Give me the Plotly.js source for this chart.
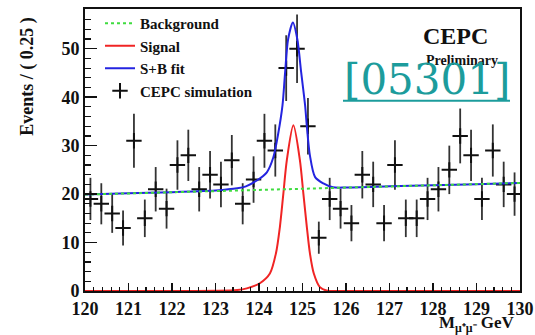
<!DOCTYPE html>
<html>
<head>
<meta charset="utf-8">
<script src="https://cdn.plot.ly/plotly-3.0.1.min.js"></script>
<style>html,body{margin:0;padding:0;background:#fff;}#chart{width:535px;height:335px;}</style>
</head>
<body>
<div id="chart"></div>
<script>
// Histogram (CEPC simulation), 40 bins of 0.25 GeV from 120 to 130
const binLow = 120;
const binWidth = 0.25;
const counts = [19,18,16,13,31,15,21,17,26,28,
                21,24,22,27,18,23,31,29,46,50,
                34,11,19,17,14,24,22,14,26,15,
                15,19,21,25,32,28,19,29,22,20];
const binCenters = counts.map((_, i) => binLow + binWidth * (i + 0.5));

// Background fit (linear)
const bgX = [120, 130];
const bgY = [19.9, 22.3];

// Signal fit curve
const sigX = [120, 123, 123.5, 123.72, 124.02, 124.25, 124.39, 124.48, 124.56, 124.64, 124.79,
              124.94, 125.02, 125.10, 125.17, 125.26, 125.40, 125.55, 126, 130];
const sigY = [0, 0.05, 0.2, 0.55, 1.6, 3.6, 7.8, 13.2, 20.1, 27.0, 34.2,
              27.0, 20.1, 13.2, 7.8, 3.6, 0.8, 0.1, 0, 0];

// S+B fit curve
const sbX = [120, 121, 122, 122.5, 123, 123.5, 123.7, 123.95, 124.18, 124.33, 124.44, 124.54,
             124.6, 124.67, 124.78, 124.88, 124.97, 125.06, 125.1, 125.17, 125.29, 125.48, 125.7,
             126, 127, 128, 129, 130];
const sbY = [19.9, 20.15, 20.4, 20.55, 20.75, 21.2, 21.6, 22.8, 24.5, 27.6, 32.4, 38.3,
             45.1, 52.0, 55.4, 52.0, 45.1, 38.3, 34.0, 28.0, 23.5, 22.2, 21.4,
             21.35, 21.6, 21.85, 22.05, 22.3];

const legendNames = ["Background", "Signal", "S+B fit", "CEPC simulation"];

const serif = "Liberation Serif, Times New Roman, serif";
const ink = "#111111";

const traces = [
  {
    x: binCenters, y: counts, type: "scatter", mode: "markers",
    name: legendNames[3], legendrank: 4,
    marker: {symbol: "cross-thin", size: 11, color: ink, line: {color: ink, width: 2}},
    error_y: {type: "sqrt", visible: true, color: "#333333", thickness: 1.8, width: 0},
    cliponaxis: true
  },
  {
    x: sigX, y: sigY, type: "scatter", mode: "lines",
    name: legendNames[1], legendrank: 2,
    line: {color: "#f02424", width: 2, shape: "spline", smoothing: 0.8}
  },
  {
    x: sbX, y: sbY, type: "scatter", mode: "lines",
    name: legendNames[2], legendrank: 3,
    line: {color: "#2424e0", width: 2, shape: "spline", smoothing: 0.8}
  },
  {
    x: bgX, y: bgY, type: "scatter", mode: "lines",
    name: legendNames[0], legendrank: 1,
    line: {color: "#3fdc3f", width: 2, dash: "dot"}
  }
];

const L = 85, R = 520, T = 8, B = 291;
const px = v => (v - L) / (R - L);
const py = v => (B - v) / (B - T);

const layout = {
  width: 535, height: 335,
  margin: {l: L, r: 535 - R, t: T, b: 335 - B, pad: 0},
  paper_bgcolor: "#ffffff", plot_bgcolor: "#ffffff",
  showlegend: true,
  legend: {
    x: px(100), y: py(7), xanchor: "left", yanchor: "top",
    bgcolor: "rgba(0,0,0,0)", borderwidth: 0,
    font: {family: serif, size: 15, color: ink, weight: "bold"},
    tracegroupgap: 0
  },
  xaxis: {
    range: [120, 130], tick0: 120, dtick: 1,
    ticks: "inside", ticklen: 8, tickwidth: 1.5, tickcolor: ink,
    showline: true, linecolor: ink, linewidth: 2, mirror: true,
    showgrid: false, zeroline: false,
    minor: {dtick: 0.2, ticks: "inside", ticklen: 4, tickwidth: 1.2, tickcolor: ink, showgrid: false},
    tickfont: {family: serif, size: 18, color: ink, weight: "bold"}
  },
  yaxis: {
    range: [0, 58.2], tick0: 0, dtick: 10,
    ticks: "inside", ticklen: 12, tickwidth: 1.5, tickcolor: ink,
    showline: true, linecolor: ink, linewidth: 2, mirror: true,
    showgrid: false, zeroline: false,
    minor: {dtick: 2, ticks: "inside", ticklen: 6, tickwidth: 1.2, tickcolor: ink, showgrid: false},
    tickfont: {family: serif, size: 18, color: ink, weight: "bold"}
  },
  annotations: [
    {text: "Events / ( 0.25 )", xref: "paper", yref: "paper", x: px(28), y: py(75),
     xanchor: "center", yanchor: "middle", textangle: -90, showarrow: false,
     font: {family: serif, size: 18, color: ink, weight: "bold"}},
    {text: "M<sub>μ⁺μ⁻</sub> GeV", xref: "paper", yref: "paper", x: px(517), y: py(324),
     xanchor: "right", yanchor: "middle", showarrow: false,
     font: {family: serif, size: 17, color: ink, weight: "bold"}},
    {text: "CEPC", xref: "paper", yref: "paper", x: px(455), y: py(35),
     xanchor: "center", yanchor: "middle", showarrow: false,
     font: {family: serif, size: 24, color: ink, weight: "bold"}},
    {text: "Preliminary", xref: "paper", yref: "paper", x: px(462), y: py(60),
     xanchor: "center", yanchor: "middle", showarrow: false,
     font: {family: serif, size: 14, color: ink, weight: "bold"}},
    {text: "[05301]", xref: "paper", yref: "paper", x: px(426.5), y: py(78.5),
     xanchor: "center", yanchor: "middle", showarrow: false,
     font: {family: "DejaVu Serif, serif", size: 42, color: "#1c9c9c"}}
  ],
  shapes: [
    {type: "line", xref: "paper", yref: "paper", x0: px(343), x1: px(510), y0: py(100), y1: py(100),
     line: {color: "#1c9c9c", width: 2}}
  ]
};

Plotly.newPlot("chart", traces, layout, {staticPlot: true, displayModeBar: false});
</script>
</body>
</html>
